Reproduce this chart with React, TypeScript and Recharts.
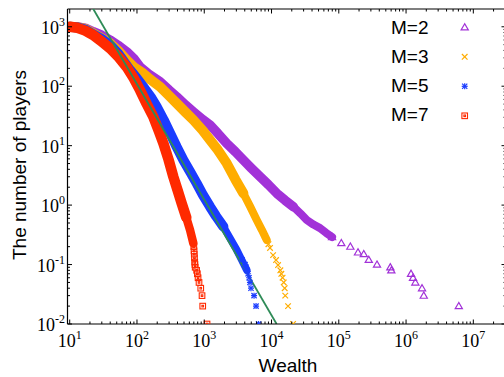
import React from "react";
import { ComposedChart, Line, Scatter, XAxis, YAxis, ReferenceLine } from "recharts";

// wealth distribution for different numbers of players per game (M)
const M2_BAND = [
  { x: 10, y: 1000 }, { x: 13, y: 990 }, { x: 17, y: 950 }, { x: 22.4, y: 824 },
  { x: 30, y: 720 }, { x: 39.8, y: 597 }, { x: 52, y: 490 }, { x: 70.3, y: 380 },
  { x: 90, y: 290 }, { x: 111, y: 212 }, { x: 150, y: 160 }, { x: 220, y: 119 },
  { x: 300, y: 86 }, { x: 390, y: 66.5 }, { x: 530, y: 48 }, { x: 689, y: 37.2 },
  { x: 950, y: 27.5 }, { x: 1219, y: 22.2 }, { x: 1600, y: 16 }, { x: 2158, y: 10.9 },
  { x: 2900, y: 7.9 }, { x: 3811, y: 5.73 }, { x: 5000, y: 4.2 }, { x: 6750, y: 3.0 },
  { x: 9000, y: 2.2 }, { x: 11970, y: 1.58 }, { x: 16000, y: 1.2 }, { x: 21100, y: 0.94 },
];
const M2_BAND_END = [
  { x: 21100, y: 0.94 }, { x: 27000, y: 0.72 }, { x: 33400, y: 0.561 }, { x: 42000, y: 0.47 },
  { x: 52600, y: 0.41 }, { x: 65000, y: 0.34 }, { x: 79400, y: 0.29 },
];
const M2_TAIL = [
  { x: 79400, y: 0.29 }, { x: 109000, y: 0.23 }, { x: 148500, y: 0.2 }, { x: 193000, y: 0.16 },
  { x: 235000, y: 0.15 }, { x: 279000, y: 0.12 }, { x: 370000, y: 0.1 }, { x: 584000, y: 0.09 },
  { x: 604000, y: 0.08 }, { x: 1186000, y: 0.07 }, { x: 1270000, y: 0.06 }, { x: 1375000, y: 0.05 },
  { x: 1728000, y: 0.04 }, { x: 1833000, y: 0.03 }, { x: 6080000, y: 0.02 },
];

const M3_BAND = [
  { x: 10, y: 1000 }, { x: 13, y: 985 }, { x: 17, y: 920 }, { x: 22.4, y: 774 },
  { x: 30, y: 640 }, { x: 39.8, y: 526 }, { x: 52, y: 400 }, { x: 70.3, y: 275 },
  { x: 90, y: 210 }, { x: 124, y: 164 }, { x: 160, y: 128 }, { x: 220, y: 98 },
  { x: 290, y: 72 }, { x: 390, y: 51.5 }, { x: 520, y: 37 }, { x: 689, y: 27 },
  { x: 950, y: 18 }, { x: 1219, y: 12.4 }, { x: 1600, y: 8.4 }, { x: 2158, y: 5.05 },
  { x: 2900, y: 2.7 }, { x: 3811, y: 1.58 },
];
const M3_BAND_END = [
  { x: 3811, y: 1.58 }, { x: 4800, y: 0.95 }, { x: 6030, y: 0.561 }, { x: 7200, y: 0.38 },
  { x: 8490, y: 0.259 },
];
const M3_TAIL = [
  { x: 8000, y: 0.3 }, { x: 9000, y: 0.22 }, { x: 9500, y: 0.19 }, { x: 10550, y: 0.144 },
  { x: 11670, y: 0.119 }, { x: 12500, y: 0.098 }, { x: 13530, y: 0.08 }, { x: 14000, y: 0.07 },
  { x: 14600, y: 0.06 }, { x: 15200, y: 0.05 }, { x: 15700, y: 0.04 }, { x: 16000, y: 0.03 },
  { x: 17600, y: 0.02 }, { x: 20900, y: 0.01 },
];

const M5_BAND = [
  { x: 10, y: 1000 }, { x: 13, y: 975 }, { x: 17, y: 900 }, { x: 22.4, y: 750 },
  { x: 30, y: 620 }, { x: 39.8, y: 492 }, { x: 52, y: 360 }, { x: 78.8, y: 187 },
  { x: 100, y: 135 }, { x: 124, y: 98 }, { x: 160, y: 66 }, { x: 196, y: 45.2 },
  { x: 250, y: 27 }, { x: 312, y: 16.1 }, { x: 390, y: 9.5 }, { x: 489, y: 5.73 },
  { x: 620, y: 3.6 }, { x: 773, y: 2.32 }, { x: 950, y: 1.5 }, { x: 1219, y: 0.94 },
  { x: 1500, y: 0.65 }, { x: 1923, y: 0.433 },
];
const M5_BAND_END = [
  { x: 1923, y: 0.433 }, { x: 2400, y: 0.28 }, { x: 3040, y: 0.176 }, { x: 3600, y: 0.12 },
  { x: 4285, y: 0.081 },
];
const M5_TAIL = [
  { x: 3650, y: 0.12 }, { x: 4040, y: 0.1 }, { x: 4180, y: 0.09 }, { x: 4330, y: 0.08 },
  { x: 4480, y: 0.07 }, { x: 4630, y: 0.06 }, { x: 4780, y: 0.05 }, { x: 4950, y: 0.04 },
  { x: 5500, y: 0.03 }, { x: 5890, y: 0.02 }, { x: 6410, y: 0.01 },
];

const M7_BAND = [
  { x: 10, y: 1000 }, { x: 13, y: 960 }, { x: 17, y: 860 }, { x: 22.4, y: 725 },
  { x: 30, y: 560 }, { x: 39.8, y: 433 }, { x: 52, y: 320 }, { x: 70, y: 212 },
  { x: 90, y: 135 }, { x: 111, y: 86 }, { x: 140, y: 50 }, { x: 175, y: 30.6 },
  { x: 210, y: 18 }, { x: 247, y: 10.9 }, { x: 295, y: 5.8 }, { x: 347, y: 3.0 },
  { x: 400, y: 1.8 }, { x: 462, y: 1.07 }, { x: 540, y: 0.62 },
];
const M7_BAND_END = [
  { x: 540, y: 0.62 }, { x: 615, y: 0.38 }, { x: 689, y: 0.227 },
];
const M7_TAIL = [
  { x: 700, y: 0.2 }, { x: 705, y: 0.17 }, { x: 710, y: 0.15 }, { x: 715, y: 0.13 },
  { x: 722, y: 0.11 }, { x: 727, y: 0.1 }, { x: 733, y: 0.09 }, { x: 770, y: 0.08 },
  { x: 790, y: 0.07 }, { x: 809, y: 0.06 }, { x: 836, y: 0.05 }, { x: 887, y: 0.04 },
  { x: 927, y: 0.03 }, { x: 949, y: 0.02 }, { x: 1100, y: 0.01 },
];

// power-law guide, slope about -2
const FIT_LINE = [{ x: 22.4, y: 1990 }, { x: 11900, y: 0.01 }];

const X_DOMAIN = [9.27, 3.06e7];
const Y_DOMAIN = [0.01, 1990];
const X_DECADES = [10, 100, 1000, 1e4, 1e5, 1e6, 1e7];
const Y_DECADES = [0.01, 0.1, 1, 10, 100, 1000];
const MINOR_STEPS = [2, 3, 4, 5, 6, 7, 8, 9];

const withMinor = (decades: number[], max: number) => {
  const out: number[] = [];
  decades.forEach((d) => {
    out.push(d);
    MINOR_STEPS.forEach((m) => {
      const v = d * m;
      if (v <= max) out.push(v);
    });
  });
  return out;
};
const X_TICKS = withMinor(X_DECADES, X_DOMAIN[1]);
const Y_TICKS = withMinor(Y_DECADES, Y_DOMAIN[1]);

const PURPLE = "#a232d8";
const ORANGE = "#ffad00";
const BLUE = "#1a3cff";
const RED = "#ff2a00";
const GREEN = "#2e8b57";

const W = 506;
const H = 377;
const PLOT_TOP = 9;
const PLOT_RIGHT = W;

const exponent = (v: number) => Math.round(Math.log10(v));
const isMajor = (v: number) => Math.abs(Math.log10(v) - exponent(v)) < 1e-6;

const XTick = (props: any) => {
  const { x, y, payload } = props;
  const v = payload.value;
  const major = isMajor(v);
  const len = major ? 4.5 : 2.5;
  return (
    <g>
      <line x1={x} x2={x} y1={y} y2={y - len} stroke="#000" strokeWidth={1} />
      <line x1={x} x2={x} y1={PLOT_TOP} y2={PLOT_TOP + len} stroke="#000" strokeWidth={1} />
      {major && (
        <text x={x} y={y + 23} textAnchor="middle" fontFamily="Liberation Serif" fontSize={18} fill="#000">
          10
          <tspan dy={-8} fontSize={12}>{exponent(v)}</tspan>
        </text>
      )}
    </g>
  );
};

const YTick = (props: any) => {
  const { x, y, payload } = props;
  const v = payload.value;
  const major = isMajor(v);
  const len = major ? 4.5 : 2.5;
  return (
    <g>
      <line x1={x} x2={x + len} y1={y} y2={y} stroke="#000" strokeWidth={1} />
      <line x1={PLOT_RIGHT} x2={PLOT_RIGHT - len} y1={y} y2={y} stroke="#000" strokeWidth={1} />
      {major && (
        <text x={x - 2.5} y={y + 7} textAnchor="end" fontFamily="Liberation Serif" fontSize={18} fill="#000">
          10
          <tspan dy={-8} fontSize={12}>{exponent(v)}</tspan>
        </text>
      )}
    </g>
  );
};

// marker glyphs, shared by the scatter tails and the legend
const Tri = ({ cx, cy }: any) => (
  <polygon
    points={`${cx},${cy - 3.6} ${cx - 3.6},${cy + 2.6} ${cx + 3.6},${cy + 2.6}`}
    fill="none"
    stroke={PURPLE}
    strokeWidth={1.2}
  />
);
const Cross = ({ cx, cy }: any) => (
  <g stroke={ORANGE} strokeWidth={1.2}>
    <line x1={cx - 2.8} y1={cy - 2.8} x2={cx + 2.8} y2={cy + 2.8} />
    <line x1={cx - 2.8} y1={cy + 2.8} x2={cx + 2.8} y2={cy - 2.8} />
  </g>
);
const Star = ({ cx, cy }: any) => (
  <g stroke={BLUE} strokeWidth={1.2}>
    <line x1={cx - 2.6} y1={cy - 2.6} x2={cx + 2.6} y2={cy + 2.6} />
    <line x1={cx - 2.6} y1={cy + 2.6} x2={cx + 2.6} y2={cy - 2.6} />
    <line x1={cx - 3} y1={cy} x2={cx + 3} y2={cy} />
    <line x1={cx} y1={cy - 3} x2={cx} y2={cy + 3} />
  </g>
);
const Box = ({ cx, cy }: any) => (
  <g stroke={RED} strokeWidth={1.1} fill="none">
    <rect x={cx - 2.8} y={cy - 2.8} width={5.6} height={5.6} />
    <rect x={cx - 0.8} y={cy - 0.8} width={1.6} height={1.6} />
  </g>
);

const LEGEND = [
  { label: "M=2", Glyph: Tri },
  { label: "M=3", Glyph: Cross },
  { label: "M=5", Glyph: Star },
  { label: "M=7", Glyph: Box },
];

const bandProps = (width: number) => ({
  dataKey: "y",
  dot: false,
  activeDot: false,
  strokeWidth: width,
  strokeLinecap: "round" as const,
  strokeLinejoin: "round" as const,
  isAnimationActive: false,
});

export default function App() {
  return (
    <div style={{ position: "absolute", left: 0, top: 0, width: 504, height: H, overflow: "hidden", background: "#fff" }}>
      <ComposedChart width={W} height={H} margin={{ top: PLOT_TOP, right: 0, bottom: 0, left: 0 }}>
        <XAxis
          dataKey="x"
          type="number"
          scale="log"
          domain={X_DOMAIN}
          allowDataOverflow
          ticks={X_TICKS}
          interval={0}
          tickSize={0}
          tickMargin={0}
          tickLine={false}
          tick={<XTick />}
          height={53}
          axisLine={{ stroke: "#000", strokeWidth: 1.2 }}
        />
        <YAxis
          dataKey="y"
          type="number"
          scale="log"
          domain={Y_DOMAIN}
          allowDataOverflow
          ticks={Y_TICKS}
          interval={0}
          tickSize={0}
          tickMargin={0}
          tickLine={false}
          tick={<YTick />}
          width={67.5}
          axisLine={{ stroke: "#000", strokeWidth: 1.2 }}
        />
        <ReferenceLine y={Y_DOMAIN[1]} stroke="#000" strokeWidth={1.2} />
        <ReferenceLine x={X_DOMAIN[1]} stroke="#000" strokeWidth={1.2} />
        <Line data={M2_BAND} stroke={PURPLE} {...bandProps(9.5)} />
        <Line data={M2_BAND_END} stroke={PURPLE} {...bandProps(8)} />
        <Line data={M3_BAND} stroke={ORANGE} {...bandProps(10)} />
        <Line data={M3_BAND_END} stroke={ORANGE} {...bandProps(8)} />
        <Line data={M5_BAND} stroke={BLUE} {...bandProps(10)} />
        <Line data={M5_BAND_END} stroke={BLUE} {...bandProps(7.5)} />
        <Line data={M7_BAND} stroke={RED} {...bandProps(10.5)} />
        <Line data={M7_BAND_END} stroke={RED} {...bandProps(8.5)} />
        <Line data={FIT_LINE} dataKey="y" stroke={GREEN} strokeWidth={1.8} dot={false} activeDot={false} isAnimationActive={false} />
        <Scatter data={M2_TAIL} dataKey="y" shape={(p: any) => <Tri cx={p.cx} cy={p.cy} />} isAnimationActive={false} />
        <Scatter data={M3_TAIL} dataKey="y" shape={(p: any) => <Cross cx={p.cx} cy={p.cy} />} isAnimationActive={false} />
        <Scatter data={M5_TAIL} dataKey="y" shape={(p: any) => <Star cx={p.cx} cy={p.cy} />} isAnimationActive={false} />
        <Scatter data={M7_TAIL} dataKey="y" shape={(p: any) => <Box cx={p.cx} cy={p.cy} />} isAnimationActive={false} />
      </ComposedChart>
      <svg width={504} height={H} style={{ position: "absolute", left: 0, top: 0, pointerEvents: "none" }}>
        <g fontFamily="Liberation Sans, Arial, sans-serif" fontSize={19} fill="#000">
          <text x={288} y={372} textAnchor="middle">Wealth</text>
          <text transform="translate(25.5,165) rotate(-90)" textAnchor="middle">The number of players</text>
          {LEGEND.map(({ label, Glyph }, i) => (
            <g key={label}>
              <text x={391} y={33.5 + i * 29.3}>{label}</text>
              <Glyph cx={464.7} cy={27.3 + i * 29.5} />
            </g>
          ))}
        </g>
      </svg>
    </div>
  );
}
